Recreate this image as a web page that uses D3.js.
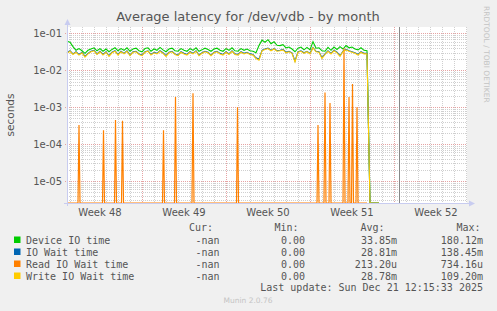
<!DOCTYPE html>
<html>
<head>
<meta charset="utf-8">
<script src="https://cdn.jsdelivr.net/npm/d3@7"></script>
<style>
  body { margin: 0; background: #f0f0f0; }
  svg { display: block; }
  .mono { font-family: "DejaVu Sans Mono", monospace; font-size: 10px; fill: #555; }
  .sans { font-family: "DejaVu Sans", sans-serif; fill: #555; }
</style>
</head>
<body>
<div class="viz"></div>
<script>
// samples every 6 hours, starting Nov 24 18:00
const seriesStart = new Date(2025, 10, 24, 18);

const deviceIO = [
  0.062, 0.058, 0.044, 0.035, 0.039, 0.034, 0.029, 0.035, 0.038, 0.041,
  0.034, 0.039, 0.033, 0.038, 0.032, 0.037, 0.041, 0.034, 0.039, 0.035,
  0.041, 0.033, 0.038, 0.040, 0.034, 0.032, 0.039, 0.041, 0.033, 0.038,
  0.035, 0.042, 0.036, 0.032, 0.038, 0.040, 0.034, 0.033, 0.039, 0.035,
  0.033, 0.039, 0.035, 0.041, 0.033, 0.036, 0.040, 0.037, 0.033, 0.038,
  0.040, 0.035, 0.033, 0.039, 0.035, 0.041, 0.034, 0.033, 0.039, 0.035,
  0.038, 0.034, 0.033, 0.030, 0.047, 0.066, 0.058, 0.068, 0.053, 0.060,
  0.048, 0.047, 0.050, 0.041, 0.043, 0.038, 0.032, 0.040, 0.043, 0.036,
  0.042, 0.036, 0.060, 0.040, 0.041, 0.034, 0.033, 0.042, 0.035, 0.043,
  0.037, 0.044, 0.038, 0.047, 0.041, 0.043, 0.038, 0.036, 0.041, 0.035,
  0.034, 0, 0, 0, 0
];

const ioWait = [
  0.030, 0.034, 0.028, 0.032, 0.027, 0.031, 0.024, 0.029, 0.033, 0.035,
  0.028, 0.033, 0.027, 0.032, 0.025, 0.031, 0.034, 0.027, 0.033, 0.029,
  0.034, 0.026, 0.032, 0.033, 0.028, 0.026, 0.032, 0.034, 0.027, 0.031,
  0.029, 0.034, 0.030, 0.025, 0.031, 0.033, 0.028, 0.026, 0.032, 0.029,
  0.027, 0.032, 0.029, 0.034, 0.026, 0.030, 0.033, 0.031, 0.026, 0.031,
  0.033, 0.029, 0.027, 0.032, 0.028, 0.034, 0.028, 0.027, 0.032, 0.029,
  0.031, 0.028, 0.027, 0.022, 0.020, 0.035, 0.038, 0.040, 0.035, 0.039,
  0.034, 0.035, 0.037, 0.031, 0.033, 0.030, 0.018, 0.032, 0.034, 0.030,
  0.033, 0.029, 0.042, 0.033, 0.032, 0.022, 0.028, 0.034, 0.029, 0.035,
  0.031, 0.025, 0.033, 0.037, 0.034, 0.032, 0.030, 0.027, 0.032, 0.029,
  0.029, 0, 0, 0, 0
];

const writeWait = [
  0.029, 0.033, 0.027, 0.031, 0.026, 0.030, 0.023, 0.028, 0.032, 0.034,
  0.027, 0.032, 0.026, 0.031, 0.024, 0.030, 0.033, 0.026, 0.032, 0.028,
  0.033, 0.025, 0.031, 0.032, 0.027, 0.025, 0.031, 0.033, 0.026, 0.030,
  0.028, 0.033, 0.029, 0.024, 0.030, 0.032, 0.027, 0.025, 0.031, 0.028,
  0.026, 0.031, 0.028, 0.033, 0.025, 0.029, 0.032, 0.030, 0.025, 0.030,
  0.032, 0.028, 0.026, 0.031, 0.027, 0.033, 0.027, 0.026, 0.031, 0.028,
  0.030, 0.027, 0.026, 0.021, 0.019, 0.034, 0.037, 0.039, 0.034, 0.038,
  0.033, 0.034, 0.036, 0.030, 0.032, 0.029, 0.017, 0.031, 0.033, 0.029,
  0.032, 0.028, 0.041, 0.032, 0.031, 0.021, 0.027, 0.033, 0.028, 0.034,
  0.030, 0.024, 0.032, 0.036, 0.033, 0.031, 0.029, 0.026, 0.031, 0.028,
  0.028, 0, 0, 0, 0
];

// read wait is zero except for short spikes
const readSpikeTimes = [
  new Date(2025, 10, 25, 18), new Date(2025, 10, 27, 19), new Date(2025, 10, 28, 19),
  new Date(2025, 10, 29, 9), new Date(2025, 11, 2, 19), new Date(2025, 11, 3, 19),
  new Date(2025, 11, 5, 6), new Date(2025, 11, 8, 23), new Date(2025, 11, 15, 16),
  new Date(2025, 11, 16, 6), new Date(2025, 11, 16, 16), new Date(2025, 11, 17, 20),
  new Date(2025, 11, 18, 6), new Date(2025, 11, 18, 13), new Date(2025, 11, 18, 22)
];
const readSpikeValues = [
  3.3e-4, 2.4e-4, 4.5e-4, 4.3e-4, 2.4e-4, 1.9e-3, 2.4e-3, 1.0e-3,
  3.3e-4, 2.5e-3, 1.3e-3, 4.0e-2, 1.9e-3, 4.3e-3, 1.0e-3
];
const readEnd = new Date(2025, 11, 19, 18);

const yTicks = [1e-1, 1e-2, 1e-3, 1e-4, 1e-5];
const yTickLabels = ["1e-01", "1e-02", "1e-03", "1e-04", "1e-05"];
const weekLabels = ["Week 48", "Week 49", "Week 50", "Week 51", "Week 52"];
const lastSeen = new Date(2025, 11, 22, 10);

const legendNames = ["Device IO time", "IO Wait time", "Read IO Wait time", "Write IO Wait time"];
const legendColors = ["#00cc00", "#0066b3", "#ff8000", "#ffcc00"];
const legendCur = ["-nan", "-nan", "-nan", "-nan"];
const legendMin = ["0.00", "0.00", "0.00", "0.00"];
const legendAvg = ["33.85m", "28.81m", "213.20u", "28.78m"];
const legendMax = ["180.12m", "138.45m", "734.16u", "109.20m"];

const W = 497, H = 311;
const plot = { left: 67, right: 467, top: 27, bottom: 203 };
const yMin = 2.55e-6, yMax = 0.15;

const svg = d3.select('.viz')
    .append('svg')
    .attr('width', W)
    .attr('height', H);

svg.append("rect").attr("width", W).attr("height", H).attr("fill", "#f0f0f0");

const x = d3.scaleTime()
    .domain([new Date(2025, 10, 24, 18), new Date(2025, 11, 28, 2)])
    .range([plot.left, plot.right]);

const y = d3.scaleLog()
    .domain([yMin, yMax])
    .range([plot.bottom, plot.top])
    .clamp(true);

const yv = v => y(Math.max(v, yMin));

// plot background
svg.append("rect")
    .attr("x", plot.left).attr("y", plot.top)
    .attr("width", plot.right - plot.left).attr("height", plot.bottom - plot.top)
    .attr("fill", "#ffffff");

/* GRID */
const grid = svg.append("g").attr("shape-rendering", "crispEdges");

// minor horizontal lines
const minorY = [];
for (let e = -6; e <= -1; e++) {
    for (let m = 2; m <= 9; m++) {
        const v = m * Math.pow(10, e);
        if (v > yMin && v < yMax) minorY.push(v);
    }
}
grid.selectAll(null)
    .data(minorY)
    .enter()
    .append("line")
    .attr("x1", plot.left).attr("x2", plot.right)
    .attr("y1", d => Math.round(y(d)) + 0.5).attr("y2", d => Math.round(y(d)) + 0.5)
    .attr("stroke", "#cfcfcf")
    .attr("stroke-dasharray", "1,1");

// days
const days = x.ticks(d3.timeDay.every(1)).filter(d => d.getDay() !== 1);
grid.selectAll(null)
    .data(days)
    .enter()
    .append("line")
    .attr("x1", d => Math.round(x(d)) + 0.5).attr("x2", d => Math.round(x(d)) + 0.5)
    .attr("y1", plot.top).attr("y2", plot.bottom + 2)
    .attr("stroke", "#cfcfcf")
    .attr("stroke-dasharray", "1,1");

// major horizontal
grid.selectAll(null)
    .data(yTicks)
    .enter()
    .append("line")
    .attr("x1", plot.left - 2).attr("x2", plot.right)
    .attr("y1", d => Math.round(y(d)) + 0.5).attr("y2", d => Math.round(y(d)) + 0.5)
    .attr("stroke", "#e6a3a3")
    .attr("stroke-dasharray", "1,1");

// weeks
const mondays = x.ticks(d3.timeMonday.every(1));
grid.selectAll(null)
    .data(mondays)
    .enter()
    .append("line")
    .attr("x1", d => Math.round(x(d)) + 0.5).attr("x2", d => Math.round(x(d)) + 0.5)
    .attr("y1", plot.top).attr("y2", plot.bottom + 2)
    .attr("stroke", "#e6a3a3")
    .attr("stroke-dasharray", "1,1");

/* AXES LABELS */
svg.selectAll(null)
    .data(yTicks)
    .enter()
    .append("text")
    .attr("class", "sans")
    .attr("font-size", 10)
    .attr("text-anchor", "end")
    .attr("x", plot.left - 5)
    .attr("y", d => y(d) + 3.5)
    .text((d, i) => yTickLabels[i]);

// week labels in the middle of each week
const weekMids = [new Date(2025, 10, 27, 12), new Date(2025, 11, 4, 12), new Date(2025, 11, 11, 12),
                  new Date(2025, 11, 18, 12), new Date(2025, 11, 25, 12)];
svg.selectAll(null)
    .data(weekMids)
    .enter()
    .append("text")
    .attr("class", "sans")
    .attr("font-size", 10)
    .attr("text-anchor", "middle")
    .attr("x", d => x(d))
    .attr("y", 216)
    .text((d, i) => weekLabels[i]);

svg.append("text")
    .attr("class", "sans")
    .attr("font-size", 10.5)
    .attr("text-anchor", "middle")
    .attr("transform", `translate(14,${(plot.top + plot.bottom) / 2}) rotate(-90)`)
    .text("seconds");

svg.append("text")
    .attr("class", "sans")
    .attr("font-size", 13)
    .attr("text-anchor", "middle")
    .attr("x", 248)
    .attr("y", 21)
    .text("Average latency for /dev/vdb - by month");

svg.append("text")
    .attr("font-family", "DejaVu Sans, sans-serif")
    .attr("font-size", 7.5)
    .attr("fill", "#c4c4c4")
    .attr("transform", "translate(484,6) rotate(90)")
    .text("RRDTOOL / TOBI OETIKER");

/* SERIES */
const times = deviceIO.map((d, i) => d3.timeHour.offset(seriesStart, i * 6));

const line = d3.line()
    .x(d => x(d[0]))
    .y(d => yv(d[1]));

const zipped = arr => arr.map((v, i) => [times[i], v]);

svg.append("path")
    .datum(zipped(deviceIO))
    .attr("d", line)
    .attr("fill", "none")
    .attr("stroke", legendColors[0])
    .attr("stroke-width", 1.1);

svg.append("path")
    .datum(zipped(ioWait))
    .attr("d", line)
    .attr("fill", "none")
    .attr("stroke", legendColors[1])
    .attr("stroke-width", 1.1);

// read wait: baseline plus spikes
const readPts = [[seriesStart, 0]];
readSpikeTimes.forEach((t, i) => {
    readPts.push([d3.timeHour.offset(t, -2), 0]);
    readPts.push([t, readSpikeValues[i]]);
    readPts.push([d3.timeHour.offset(t, 2), 0]);
});
readPts.push([readEnd, 0]);

svg.append("path")
    .datum(readPts)
    .attr("d", line)
    .attr("fill", "none")
    .attr("stroke", legendColors[2])
    .attr("stroke-width", 1.2);

svg.append("path")
    .datum(zipped(writeWait))
    .attr("d", line)
    .attr("fill", "none")
    .attr("stroke", legendColors[3])
    .attr("stroke-width", 1.1);

// "now" marker
svg.append("line")
    .attr("x1", Math.round(x(lastSeen)) + 0.5).attr("x2", Math.round(x(lastSeen)) + 0.5)
    .attr("y1", plot.top).attr("y2", plot.bottom)
    .attr("stroke", "#888")
    .attr("shape-rendering", "crispEdges");

/* AXIS LINES */
const axisCol = "#c8ccf0";
svg.append("line")
    .attr("x1", plot.left + 0.5).attr("x2", plot.left + 0.5)
    .attr("y1", plot.top - 3).attr("y2", plot.bottom + 3)
    .attr("stroke", axisCol);
svg.append("line")
    .attr("x1", plot.left - 3).attr("x2", plot.right + 3)
    .attr("y1", plot.bottom + 0.5).attr("y2", plot.bottom + 0.5)
    .attr("stroke", axisCol);
svg.append("path")
    .attr("d", `M${plot.left - 2.5},${plot.top - 2} L${plot.left + 3.5},${plot.top - 2} L${plot.left + 0.5},${plot.top - 8} Z`)
    .attr("fill", axisCol);
svg.append("path")
    .attr("d", `M${plot.right + 2},${plot.bottom - 2.5} L${plot.right + 2},${plot.bottom + 3.5} L${plot.right + 8},${plot.bottom + 0.5} Z`)
    .attr("fill", axisCol);

/* LEGEND */
const rowY = [240, 252, 264, 276];
const legend = svg.append("g");

legend.selectAll(null)
    .data(legendNames)
    .enter()
    .append("rect")
    .attr("x", 14).attr("y", (d, i) => rowY[i] - 3.5)
    .attr("width", 6.5).attr("height", 6.5)
    .attr("fill", (d, i) => legendColors[i]);

legend.selectAll(null)
    .data(legendNames)
    .enter()
    .append("text")
    .attr("class", "mono")
    .attr("x", 26).attr("y", (d, i) => rowY[i] + 3.5)
    .text(d => d);

const cols = [
    { head: "Cur:", vals: legendCur, right: 219.5, headRight: 213 },
    { head: "Min:", vals: legendMin, right: 305, headRight: 298.5 },
    { head: "Avg:", vals: legendAvg, right: 397, headRight: 384.5 },
    { head: "Max:", vals: legendMax, right: 483, headRight: 480.5 }
];
cols.forEach(c => {
    legend.append("text")
        .attr("class", "mono")
        .attr("text-anchor", "end")
        .attr("x", c.headRight).attr("y", 231)
        .text(c.head);
    legend.selectAll(null)
        .data(c.vals)
        .enter()
        .append("text")
        .attr("class", "mono")
        .attr("text-anchor", "end")
        .attr("x", c.right).attr("y", (d, i) => rowY[i] + 3.5)
        .text(d => d);
});

legend.append("text")
    .attr("class", "mono")
    .attr("text-anchor", "end")
    .attr("x", 483).attr("y", 291)
    .text("Last update: Sun Dec 21 12:15:33 2025");

svg.append("text")
    .attr("font-family", "DejaVu Sans, sans-serif")
    .attr("font-size", 7.5)
    .attr("fill", "#c4c4c4")
    .attr("text-anchor", "middle")
    .attr("x", 248).attr("y", 303)
    .text("Munin 2.0.76");
</script>
</body>
</html>
